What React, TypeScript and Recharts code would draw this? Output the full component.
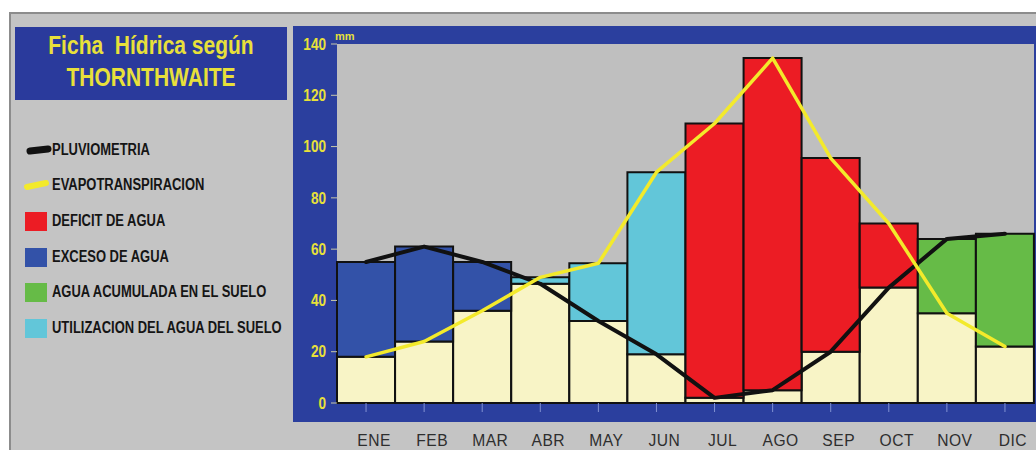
import React from 'react';
import { ComposedChart, Bar, Line, XAxis, YAxis, CartesianGrid } from 'recharts';

// Monthly water balance (mm)
const months = ['ENE', 'FEB', 'MAR', 'ABR', 'MAY', 'JUN', 'JUL', 'AGO', 'SEP', 'OCT', 'NOV', 'DIC'];
const pluviometria = [55, 61, 55, 46.5, 32, 19, 2, 5, 20, 45, 64, 66];
const evapotranspiracion = [18, 24, 36, 49, 54.5, 90, 109, 134.5, 95.5, 70, 35, 22];

// Stacked bar segments (mm)
const aguaBase = [18, 24, 36, 46.5, 32, 19, 2, 5, 20, 45, 35, 22];
const excesoAgua = [37, 37, 19, null, null, null, null, null, null, null, null, null];
const utilizacionSuelo = [null, null, null, 2.5, 22.5, 71, null, null, null, null, null, null];
const deficitAgua = [null, null, null, null, null, null, 107, 129.5, 75.5, 25, null, null];
const aguaAcumulada = [null, null, null, null, null, null, null, null, null, null, 29, 44];

const yTicks = [0, 20, 40, 60, 80, 100, 120, 140];

const data = months.map((mes, i) => ({
  mes,
  pluviometria: pluviometria[i],
  evapotranspiracion: evapotranspiracion[i],
  base: aguaBase[i],
  exceso: excesoAgua[i],
  utilizacion: utilizacionSuelo[i],
  deficit: deficitAgua[i],
  acumulada: aguaAcumulada[i],
}));

const SANS = '"Liberation Sans", Arial, sans-serif';

const COLORS = {
  panel: '#c4c4c4',
  blue: '#2b3f9e',
  plot: '#bfbfbf',
  cream: '#f8f4c6',
  exceso: '#3352a8',
  utilizacion: '#62c6d9',
  deficit: '#ec1c24',
  acumulada: '#66bb47',
  yellow: '#f3ea2b',
  title: '#e8e03a',
};

type LegendItem = { label: string; kind: 'line' | 'box'; color: string; y: number };

const legendItems: LegendItem[] = [
  { label: 'PLUVIOMETRIA', kind: 'line', color: '#111', y: 150 },
  { label: 'EVAPOTRANSPIRACION', kind: 'line', color: COLORS.yellow, y: 185 },
  { label: 'DEFICIT DE AGUA', kind: 'box', color: COLORS.deficit, y: 221 },
  { label: 'EXCESO DE AGUA', kind: 'box', color: COLORS.exceso, y: 257 },
  { label: 'AGUA ACUMULADA EN EL SUELO', kind: 'box', color: COLORS.acumulada, y: 292 },
  { label: 'UTILIZACION DEL AGUA DEL SUELO', kind: 'box', color: COLORS.utilizacion, y: 328 },
];

function LegendPanel() {
  return (
    <>
      {legendItems.map((it) => {
        const isRain = it.color === '#111';
        return (
          <React.Fragment key={it.label}>
            {it.kind === 'box' ? (
              <div
                style={{
                  position: 'absolute',
                  left: 25,
                  top: it.y - 9,
                  width: 22,
                  height: 19,
                  background: it.color,
                }}
              />
            ) : (
              <svg width={30} height={14} style={{ position: 'absolute', left: 23, top: it.y - 7 }}>
                <line
                  x1={isRain ? 7 : 4}
                  y1={isRain ? 8 : 9}
                  x2={isRain ? 25 : 23}
                  y2={isRain ? 6 : 5}
                  stroke={it.color}
                  strokeWidth={isRain ? 7 : 6}
                  strokeLinecap="round"
                />
              </svg>
            )}
            <div
              style={{
                position: 'absolute',
                left: 52,
                top: it.y - 10,
                height: 20,
                lineHeight: '20px',
                fontFamily: SANS,
                fontWeight: 'bold',
                fontSize: 16,
                color: '#151515',
                whiteSpace: 'nowrap',
                transform: 'scaleX(0.81)',
                transformOrigin: 'left center',
              }}
            >
              {it.label}
            </div>
          </React.Fragment>
        );
      })}
    </>
  );
}

// Condensed tick labels
function YTick(props: any) {
  const { x, y, payload } = props;
  return (
    <text
      transform={`translate(${x},${y}) scale(0.85,1)`}
      textAnchor="end"
      dy="0.36em"
      fill={COLORS.title}
      fontSize={16}
      fontWeight="bold"
      fontFamily={SANS}
    >
      {payload.value}
    </text>
  );
}

function XTick(props: any) {
  const { x, payload } = props;
  return (
    <text
      transform={`translate(${x + 8},446) scale(0.92,1)`}
      textAnchor="middle"
      fill="#2e2e2e"
      fontSize={17}
      letterSpacing={0.5}
      fontFamily={SANS}
    >
      {payload.value}
    </text>
  );
}

export default function App() {
  return (
    <div
      style={{
        position: 'absolute',
        left: 0,
        top: 0,
        width: 1036,
        height: 450,
        background: '#ffffff',
        overflow: 'hidden',
      }}
    >
      <div
        style={{
          position: 'absolute',
          left: 9,
          top: 12,
          width: 1040,
          height: 450,
          background: COLORS.panel,
          borderTop: '2px solid #8c8c8c',
          borderLeft: '2px solid #8c8c8c',
        }}
      />
      <div
        style={{
          position: 'absolute',
          left: 15,
          top: 27,
          width: 272,
          height: 73,
          background: '#2a3a9c',
          color: COLORS.title,
          fontFamily: SANS,
          fontWeight: 'bold',
          fontSize: 25,
          textAlign: 'center',
        }}
      >
        <div
          style={{
            position: 'absolute',
            left: 0,
            right: 0,
            top: 3,
            lineHeight: '30px',
            transform: 'scaleX(0.84)',
            whiteSpace: 'nowrap',
          }}
        >
          Ficha&nbsp; Hídrica según
        </div>
        <div
          style={{
            position: 'absolute',
            left: 0,
            right: 0,
            top: 35,
            lineHeight: '30px',
            transform: 'scaleX(0.84)',
            whiteSpace: 'nowrap',
          }}
        >
          THORNTHWAITE
        </div>
      </div>
      <LegendPanel />
      <div
        style={{
          position: 'absolute',
          left: 293,
          top: 26,
          width: 760,
          height: 396,
          background: COLORS.blue,
        }}
      />
      <div
        style={{
          position: 'absolute',
          left: 335,
          top: 30,
          lineHeight: '12px',
          fontFamily: SANS,
          fontWeight: 'bold',
          fontSize: 11,
          color: COLORS.title,
        }}
      >
        mm
      </div>
      <div style={{ position: 'absolute', left: 0, top: 0 }}>
        <ComposedChart
          width={1036}
          height={450}
          data={data}
          margin={{ top: 44, right: 2, bottom: 7, left: 297 }}
          barCategoryGap={0}
          barGap={0}
        >
          <CartesianGrid horizontal={false} vertical={false} fill={COLORS.plot} stroke="none" />
          <XAxis
            dataKey="mes"
            height={40}
            axisLine={false}
            tickSize={9}
            tickLine={{ stroke: '#8191d2', strokeWidth: 1 }}
            tick={<XTick />}
            interval={0}
          />
          <YAxis
            width={40}
            domain={[0, 140]}
            ticks={yTicks}
            axisLine={false}
            tickSize={6}
            tickMargin={5}
            tickLine={{ stroke: '#c9c9a8', strokeWidth: 1 }}
            tick={<YTick />}
          />
          <Bar dataKey="base" stackId="a" fill={COLORS.cream} stroke="#111" strokeWidth={2} isAnimationActive={false} />
          <Bar dataKey="exceso" stackId="a" fill={COLORS.exceso} stroke="#111" strokeWidth={2} isAnimationActive={false} />
          <Bar dataKey="utilizacion" stackId="a" fill={COLORS.utilizacion} stroke="#111" strokeWidth={2} isAnimationActive={false} />
          <Bar dataKey="deficit" stackId="a" fill={COLORS.deficit} stroke="#111" strokeWidth={2} isAnimationActive={false} />
          <Bar dataKey="acumulada" stackId="a" fill={COLORS.acumulada} stroke="#111" strokeWidth={2} isAnimationActive={false} />
          <Line
            dataKey="pluviometria"
            type="linear"
            stroke="#111"
            strokeWidth={4}
            dot={false}
            strokeLinecap="round"
            strokeLinejoin="round"
            isAnimationActive={false}
          />
          <Line
            dataKey="evapotranspiracion"
            type="linear"
            stroke={COLORS.yellow}
            strokeWidth={3.5}
            dot={false}
            strokeLinecap="round"
            strokeLinejoin="round"
            isAnimationActive={false}
          />
        </ComposedChart>
      </div>
    </div>
  );
}
